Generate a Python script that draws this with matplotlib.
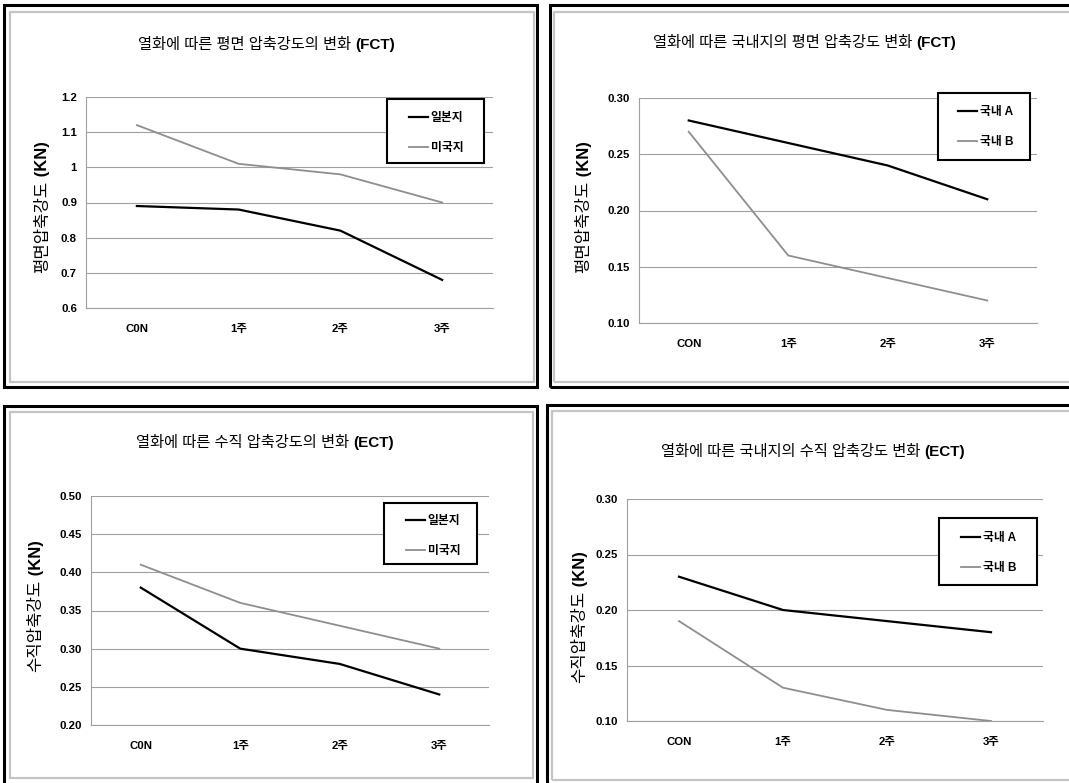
import matplotlib
matplotlib.use('Agg')
import matplotlib.pyplot as plt
from matplotlib.patches import Rectangle
from matplotlib.ticker import FuncFormatter

plt.rcParams['font.family'] = ['Liberation Sans', 'Noto Sans CJK KR']

W, H = 1069, 783

# -----------------------------------------------------------------------------
# Data

weeks_left = ['C0N', '1주', '2주', '3주']
weeks_right = ['CON', '1주', '2주', '3주']

fct_japan = [0.89, 0.88, 0.82, 0.68]
fct_usa = [1.12, 1.01, 0.98, 0.90]
fct_dom_a = [0.28, 0.26, 0.24, 0.21]
fct_dom_b = [0.27, 0.16, 0.14, 0.12]

ect_japan = [0.38, 0.30, 0.28, 0.24]
ect_usa = [0.41, 0.36, 0.33, 0.30]
ect_dom_a = [0.23, 0.20, 0.19, 0.18]
ect_dom_b = [0.19, 0.13, 0.11, 0.10]

fct_ticks = [0.6, 0.7, 0.8, 0.9, 1.0, 1.1, 1.2]
dom_ticks = [0.10, 0.15, 0.20, 0.25, 0.30]
ect_ticks = [0.20, 0.25, 0.30, 0.35, 0.40, 0.45, 0.50]

import_labels = ['일본지', '미국지']
dom_labels = ['국내 A', '국내 B']

GRAY_LINE = '#8e8e8e'
GRID = '#a0a0a0'

# -----------------------------------------------------------------------------

def fig_rect(x0, y0, x1, y1):
    """Pixel box (top-left origin) to figure fraction rect"""
    return [x0 / W, 1 - y1 / H, (x1 - x0) / W, (y1 - y0) / H]


def add_frame(fig, box, color, lw):
    x, y, w, h = fig_rect(*box)
    fig.add_artist(Rectangle((x, y), w, h, fill=False, ec=color, lw=lw,
                             transform=fig.transFigure, clip_on=False))


def draw_panel(fig, *, plot_box, cats, series, labels, ticks, fmt,
               title, tag, title_pos, ylab, ylab_pos, leg_box, leg_center,
               outer, inner):
    # -- Frames around the panel
    add_frame(fig, outer, 'black', 2.2)
    add_frame(fig, inner, '#c4c4c4', 1.6)

    ax = fig.add_axes(fig_rect(*plot_box))
    x = range(len(cats))
    ax.plot(x, series[0], color='black', lw=1.6, label=labels[0],
            clip_on=False)
    ax.plot(x, series[1], color=GRAY_LINE, lw=1.3, label=labels[1],
            clip_on=False)

    ax.set_xlim(-0.5, len(cats) - 0.5)
    ax.set_ylim(ticks[0], ticks[-1])
    ax.set_xticks(list(x), cats, fontweight='bold')
    ax.set_yticks(ticks)
    ax.yaxis.set_major_formatter(FuncFormatter(fmt))
    for lab in ax.get_yticklabels():
        lab.set_fontweight('bold')
    ax.tick_params(axis='both', length=0, labelsize=8.2)
    ax.tick_params(axis='y', pad=6.5)
    ax.tick_params(axis='x', pad=11.5)

    for side in ('top', 'right'):
        ax.spines[side].set_visible(False)
    for side in ('left', 'bottom'):
        ax.spines[side].set_color(GRID)
        ax.spines[side].set_linewidth(0.8)
    ax.yaxis.grid(True, color=GRID, lw=0.8)
    ax.set_axisbelow(True)

    # -- Title: regular Korean text followed by a bold tag
    tx, ty = title_pos
    t1 = fig.text(tx / W, 1 - ty / H, title, ha='left', va='center',
                  fontsize=11)
    ax.annotate(tag, xy=(1, 0), xycoords=t1, ha='left', va='bottom',
                fontsize=11, fontweight='bold', annotation_clip=False)

    # -- Y label, rotated, with bold unit
    lx, ly = ylab_pos
    l1 = fig.text(lx / W, 1 - ly / H, ylab, rotation=90, ha='center',
                  va='bottom', fontsize=12)
    ax.annotate(' (KN)', xy=(0.5, 1), xycoords=l1, rotation=90,
                ha='center', va='bottom', fontsize=12, fontweight='bold',
                annotation_clip=False)

    # -- Legend with a plain square box drawn behind it
    x0, y0, w, h = fig_rect(*leg_box)
    ax.add_artist(Rectangle((x0, y0), w, h, fc='white', ec='black', lw=1.5,
                            transform=fig.transFigure, clip_on=False,
                            zorder=4))
    cx, cy = leg_center
    ax.legend(loc='center', bbox_to_anchor=(cx / W, 1 - cy / H),
              bbox_transform=fig.transFigure, frameon=False,
              prop={'size': 8.5, 'weight': 'bold'},
              handlelength=1.6, handletextpad=0.25, labelspacing=1.55,
              borderaxespad=0, borderpad=0)
    return ax


fig = plt.figure(figsize=(W / 100, H / 100), dpi=100)

fmt_g = lambda v, pos: f'{v:g}'
fmt_2 = lambda v, pos: f'{v:.2f}'

draw_panel(fig, plot_box=(86, 97, 493, 308), cats=weeks_left,
           series=(fct_japan, fct_usa), labels=import_labels,
           ticks=fct_ticks, fmt=fmt_g,
           title='열화에 따른 평면 압축강도의 변화 ', tag='(FCT)',
           title_pos=(138, 45), ylab='평면압축강도', ylab_pos=(43, 273),
           leg_box=(387, 99, 484, 163), leg_center=(436, 133),
           outer=(4, 5, 537, 387), inner=(10, 12, 534, 382))

draw_panel(fig, plot_box=(639, 98, 1037, 323), cats=weeks_right,
           series=(fct_dom_a, fct_dom_b), labels=dom_labels,
           ticks=dom_ticks, fmt=fmt_2,
           title='열화에 따른 국내지의 평면 압축강도 변화 ', tag='(FCT)',
           title_pos=(653, 43), ylab='평면압축강도', ylab_pos=(584, 273),
           leg_box=(938, 93, 1030, 160), leg_center=(986, 127),
           outer=(550, 5, 1090, 387), inner=(554, 12, 1080, 382))

draw_panel(fig, plot_box=(91, 496, 489, 725), cats=weeks_left,
           series=(ect_japan, ect_usa), labels=import_labels,
           ticks=ect_ticks, fmt=fmt_2,
           title='열화에 따른 수직 압축강도의 변화 ', tag='(ECT)',
           title_pos=(136, 443), ylab='수직압축강도', ylab_pos=(36, 672),
           leg_box=(384, 503, 477, 564), leg_center=(433, 536),
           outer=(4, 406, 537, 800), inner=(10, 412, 533, 778))

draw_panel(fig, plot_box=(627, 499, 1043, 721), cats=weeks_right,
           series=(ect_dom_a, ect_dom_b), labels=dom_labels,
           ticks=dom_ticks, fmt=fmt_2,
           title='열화에 따른 국내지의 수직 압축강도 변화 ', tag='(ECT)',
           title_pos=(661, 452), ylab='수직압축강도', ylab_pos=(580, 683),
           leg_box=(939, 518, 1037, 585), leg_center=(989, 553),
           outer=(547, 405, 1090, 800), inner=(552, 411, 1080, 780))

fig.savefig('out.png', dpi=100)
